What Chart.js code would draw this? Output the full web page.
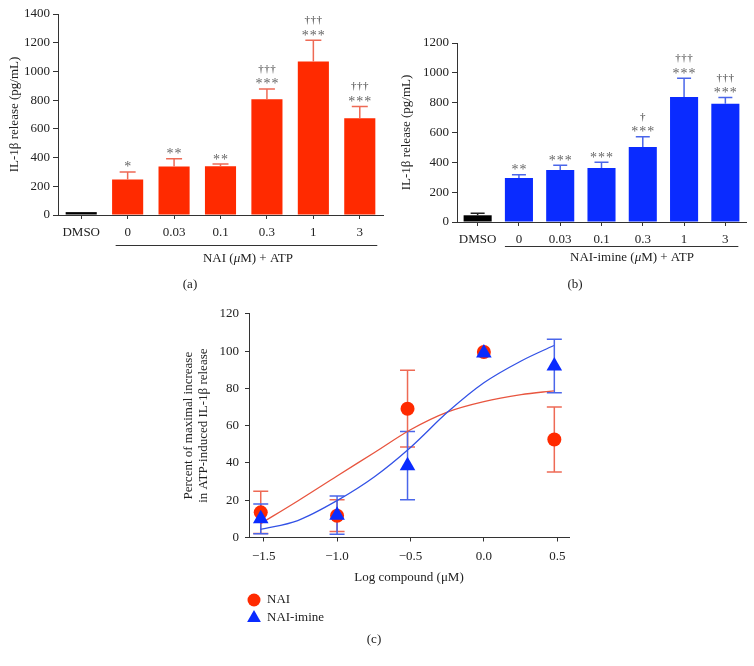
<!DOCTYPE html>
<html><head><meta charset="utf-8">
<script src="https://cdn.jsdelivr.net/npm/chart.js@4.4.1/dist/chart.umd.min.js"></script>
<style>
html,body{margin:0;padding:0;background:#fff;}
body{width:754px;height:666px;position:relative;overflow:hidden;}
canvas{position:absolute;}
#ca{left:0;top:0;width:390px;height:300px;}
#cb{left:380px;top:0;width:374px;height:300px;}
#cc{left:150px;top:300px;width:450px;height:366px;}
</style></head><body>
<canvas id="ca" width="390" height="300"></canvas>
<canvas id="cb" width="374" height="300"></canvas>
<canvas id="cc" width="450" height="366"></canvas>
<script>
// ---------- data ----------
const categories = ['DMSO', '0', '0.03', '0.1', '0.3', '1', '3'];
const naiRelease = [20, 248, 338, 340, 806, 1070, 674];
const naiReleaseErr = [0, 52, 54, 15, 72, 148, 82];
const naiStars = ['', '*', '**', '**', '***', '***', '***'];
const naiDaggers = ['', '', '', '', '†††', '†††', '†††'];
const yTicksA = [0, 200, 400, 600, 800, 1000, 1200, 1400];

const imineRelease = [45, 295, 348, 362, 503, 838, 792];
const imineReleaseErr = [13, 22, 32, 38, 69, 125, 42];
const imineStars = ['', '**', '***', '***', '***', '***', '***'];
const imineDaggers = ['', '', '', '', '†', '†††', '†††'];
const yTicksB = [0, 200, 400, 600, 800, 1000, 1200];

const logDose = [-1.52, -1.0, -0.52, 0.0, 0.48];
const naiPct = [13.5, 11.7, 69.1, 99.5, 52.6];
const naiPctErr = [11.3, 8.5, 20.6, 0, 17.4];
const iminePct = [10, 12, 38.5, 99, 92];
const iminePctErr = [8, 10.3, 18.3, 0, 14.3];
const naiFitX = [-1.522, -1.268, -1.0, -0.745, -0.5, -0.245, 0.0, 0.254, 0.477];
const naiFitY = [7.4, 19.6, 33, 45.6, 57.8, 67.4, 72.9, 76.6, 78.7];
const imineFitX = [-1.522, -1.268, -1.0, -0.745, -0.5, -0.245, 0.0, 0.254, 0.477];
const imineFitY = [4.3, 9.1, 19.8, 32.6, 48.3, 67.4, 83.0, 94.7, 103.0];
const xTicksC = [-1.5, -1.0, -0.5, 0.0, 0.5];
const yTicksC = [0, 20, 40, 60, 80, 100, 120];

// ---------- style ----------
const FONT = "'Liberation Serif','Times New Roman',serif";
Chart.defaults.font.family = FONT;
Chart.defaults.font.size = 13;
Chart.defaults.color = '#222';
Chart.defaults.animation = false;
const RED = '#ff2a00', RED_ERR = '#ee6a55', RED_LINE = '#e8553f';
const BLUE = '#0a2bff', BLUE_ERR = '#4a66ea', BLUE_LINE = '#3352e6';
const AXIS = '#333';

function drawSpaced(ctx, str, cx, y, gap) {
  const chars = Array.from(str);
  const n = chars.length;
  chars.forEach((c, k) => ctx.fillText(c, cx + (k - (n - 1) / 2) * gap, y));
}
function drawRich(ctx, parts, cx, y, size) {
  const fonts = parts.map(p => (p[1] ? 'italic ' : '') + size + 'px ' + FONT);
  let w = 0;
  const ws = parts.map((p, i) => { ctx.font = fonts[i]; const m = ctx.measureText(p[0]).width; w += m; return m; });
  let x = cx - w / 2;
  ctx.textAlign = 'left';
  parts.forEach((p, i) => { ctx.font = fonts[i]; ctx.fillText(p[0], x, y); x += ws[i]; });
}

function barPanel(id, cfg) {
  const plug = {
    id: 'ann_' + id,
    afterDatasetsDraw(chart) {
      const ctx = chart.ctx, meta = chart.getDatasetMeta(0), ys = chart.scales.y;
      ctx.save();
      cfg.values.forEach((v, i) => {
        const x = meta.data[i].x;
        const y0 = ys.getPixelForValue(v);
        const y1 = ys.getPixelForValue(v + cfg.errors[i]);
        if (cfg.errors[i] > 0) {
          ctx.strokeStyle = i === 0 ? '#222' : cfg.errColor;
          ctx.lineWidth = 1.5;
          ctx.beginPath();
          ctx.moveTo(x, y0); ctx.lineTo(x, y1);
          ctx.moveTo(x - cfg.capHalf, y1); ctx.lineTo(x + cfg.capHalf, y1);
          ctx.stroke();
        }
        ctx.textAlign = 'center'; ctx.textBaseline = 'alphabetic';
        ctx.fillStyle = '#666'; ctx.font = '14px ' + FONT;
        if (cfg.stars[i]) drawSpaced(ctx, cfg.stars[i], x, y1 - 0.5, 8);
        ctx.fillStyle = '#333'; ctx.font = '11px ' + FONT;
        if (cfg.daggers[i]) drawSpaced(ctx, cfg.daggers[i], x, y1 - 17, 6);
      });
      // group underline and label
      const xa = meta.data[1].x - cfg.lineL, xb = meta.data[6].x + cfg.lineR;
      ctx.strokeStyle = AXIS; ctx.lineWidth = 1;
      ctx.beginPath(); ctx.moveTo(xa, cfg.lineY); ctx.lineTo(xb, cfg.lineY); ctx.stroke();
      ctx.fillStyle = '#222'; ctx.textBaseline = 'middle';
      drawRich(ctx, cfg.groupLabel, cfg.labelX, cfg.labelY, 13);
      drawRich(ctx, [[cfg.letter, false]], cfg.letterX, cfg.letterY, 13);
      ctx.restore();
    }
  };
  return new Chart(document.getElementById(id), {
    type: 'bar',
    data: {
      labels: categories,
      datasets: [{
        data: cfg.values,
        backgroundColor: cfg.values.map((v, i) => i === 0 ? '#000' : cfg.color),
        borderWidth: 0,
        categoryPercentage: 1.0,
        barPercentage: cfg.barPct
      }]
    },
    options: {
      responsive: false,
      animation: false,
      layout: { padding: { top: cfg.top, right: cfg.right, left: 0, bottom: 0 } },
      plugins: { legend: { display: false }, tooltip: { enabled: false } },
      scales: {
        x: {
          afterFit: s => { s.height = cfg.xHeight; },
          grid: { display: true, drawOnChartArea: false, drawTicks: true, tickLength: 4, color: AXIS, offset: false },
          border: { display: true, color: AXIS, width: 1 },
          ticks: { color: '#222', padding: 6, maxRotation: 0, autoSkip: false, font: { size: 13 } }
        },
        y: {
          min: 0, max: cfg.ticks[cfg.ticks.length - 1],
          afterFit: s => { s.width = cfg.yWidth; },
          afterBuildTicks: s => { s.ticks = cfg.ticks.map(v => ({ value: v })); },
          grid: { display: true, drawOnChartArea: false, drawTicks: true, tickLength: 5, color: AXIS },
          border: { display: true, color: AXIS, width: 1 },
          ticks: { color: '#222', padding: 3, font: { size: 13 }, callback: v => String(v) },
          title: { display: true, text: 'IL-1β release (pg/mL)', color: '#222', font: { size: 13 }, padding: { top: cfg.titlePad, bottom: 0 } }
        }
      }
    },
    plugins: [plug]
  });
}

barPanel('ca', {
  values: naiRelease, errors: naiReleaseErr, stars: naiStars, daggers: naiDaggers, ticks: yTicksA,
  color: RED, errColor: RED_ERR, capHalf: 8, barPct: 0.67,
  top: 14, right: 7, xHeight: 85, yWidth: 58, titlePad: 7,
  lineL: 12, lineR: 17.5, lineY: 245.5,
  groupLabel: [['NAI (', false], ['μ', true], ['M) + ATP', false]], labelX: 248, labelY: 259,
  letter: '(a)', letterX: 190, letterY: 285
});
barPanel('cb', {
  values: imineRelease, errors: imineReleaseErr, stars: imineStars, daggers: imineDaggers, ticks: yTicksB,
  color: BLUE, errColor: BLUE_ERR, capHalf: 7, barPct: 0.68,
  top: 43, right: 8, xHeight: 78, yWidth: 77, titlePad: 19,
  lineL: 14, lineR: 13, lineY: 246.5,
  groupLabel: [['NAI-imine (', false], ['μ', true], ['M) + ATP', false]], labelX: 252, labelY: 258,
  letter: '(b)', letterX: 195, letterY: 285
});

// ---------- panel c ----------
const errPluginC = {
  id: 'errC',
  beforeDatasetsDraw(chart) {
    const ctx = chart.ctx, xs = chart.scales.x, ys = chart.scales.y;
    ctx.save(); ctx.lineWidth = 1.5;
    [[naiPct, naiPctErr, RED_ERR], [iminePct, iminePctErr, BLUE_ERR]].forEach(([vals, errs, col]) => {
      ctx.strokeStyle = col;
      vals.forEach((v, i) => {
        if (!errs[i]) return;
        const x = xs.getPixelForValue(logDose[i]);
        const yt = ys.getPixelForValue(v + errs[i]), yb = ys.getPixelForValue(v - errs[i]);
        ctx.beginPath();
        ctx.moveTo(x, yt); ctx.lineTo(x, yb);
        ctx.moveTo(x - 7.5, yt); ctx.lineTo(x + 7.5, yt);
        ctx.moveTo(x - 7.5, yb); ctx.lineTo(x + 7.5, yb);
        ctx.stroke();
      });
    });
    ctx.restore();
  },
  afterDraw(chart) {
    const ctx = chart.ctx;
    ctx.save();
    ctx.fillStyle = RED; ctx.beginPath(); ctx.arc(104, 300, 6.5, 0, Math.PI * 2); ctx.fill();
    ctx.fillStyle = BLUE; ctx.beginPath();
    ctx.moveTo(104, 318 - 8); ctx.lineTo(104 + 6.9, 318 + 4); ctx.lineTo(104 - 6.9, 318 + 4); ctx.closePath(); ctx.fill();
    ctx.fillStyle = '#222'; ctx.textBaseline = 'middle'; ctx.textAlign = 'left'; ctx.font = '13px ' + FONT;
    ctx.fillText('NAI', 117, 300);
    ctx.fillText('NAI-imine', 117, 318);
    drawRich(ctx, [['(c)', false]], 224, 340, 13);
    ctx.restore();
  }
};

new Chart(document.getElementById('cc'), {
  type: 'scatter',
  data: {
    datasets: [
      { label: 'NAI-imine', data: logDose.map((x, i) => ({ x, y: iminePct[i] })), pointStyle: 'triangle',
        pointRadius: 9, backgroundColor: BLUE, borderWidth: 0, order: 0 },
      { label: 'NAI', data: logDose.map((x, i) => ({ x, y: naiPct[i] })), pointStyle: 'circle',
        pointRadius: 7, backgroundColor: RED, borderWidth: 0, order: 1 },
      { type: 'line', label: 'NAI fit', data: naiFitX.map((x, i) => ({ x, y: naiFitY[i] })), borderColor: RED_LINE,
        borderWidth: 1.3, pointRadius: 0, cubicInterpolationMode: 'monotone', fill: false, order: 3 },
      { type: 'line', label: 'NAI-imine fit', data: imineFitX.map((x, i) => ({ x, y: imineFitY[i] })), borderColor: BLUE_LINE,
        borderWidth: 1.3, pointRadius: 0, cubicInterpolationMode: 'monotone', fill: false, order: 2 }
    ]
  },
  options: {
    responsive: false,
    animation: false,
    layout: { padding: { top: 7, right: 31, left: 0, bottom: 0 } },
    plugins: { legend: { display: false }, tooltip: { enabled: false } },
    scales: {
      x: {
        type: 'linear', min: -1.6, max: 0.58,
        afterFit: s => { s.height = 128.5; },
        afterBuildTicks: s => { s.ticks = xTicksC.map(v => ({ value: v })); },
        grid: { display: true, drawOnChartArea: false, drawTicks: true, tickLength: 4, color: AXIS },
        border: { display: true, color: AXIS, width: 1 },
        ticks: { color: '#222', padding: 7, font: { size: 13 },
          callback: v => (v < 0 ? '−' : '') + Math.abs(v).toFixed(1) },
        title: { display: true, text: 'Log compound (μM)', color: '#222', font: { size: 13 }, padding: { top: 0, bottom: 81 } }
      },
      y: {
        min: 0, max: 120,
        afterFit: s => { s.width = 99; },
        afterBuildTicks: s => { s.ticks = yTicksC.map(v => ({ value: v })); },
        grid: { display: true, drawOnChartArea: false, drawTicks: true, tickLength: 4, color: AXIS },
        border: { display: true, color: AXIS, width: 1 },
        ticks: { color: '#222', padding: 6, font: { size: 13 } },
        title: { display: true, text: ['Percent of maximal increase', 'in ATP-induced IL-1β release'], color: '#222',
          font: { size: 13, lineHeight: 1.15 }, padding: { top: 31, bottom: 0 } }
      }
    }
  },
  plugins: [errPluginC]
});
</script>
</body></html>
